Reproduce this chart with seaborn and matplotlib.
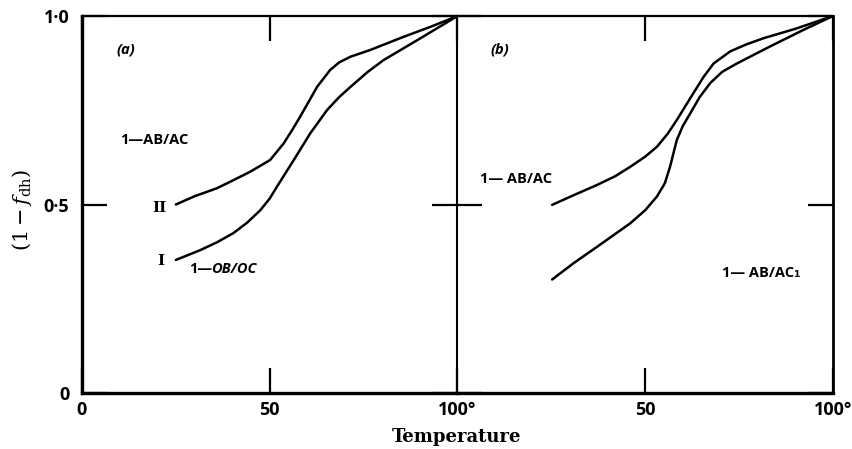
import matplotlib
matplotlib.use("Agg")
import matplotlib.pyplot as plt
import seaborn as sns
import pandas as pd

# ---- data ----
# panel (a)
a2_x = [25, 30, 35.9, 40, 44.8, 50.1, 53.7, 56, 58.1, 60.5, 62.6, 66.1, 68.5, 71.5, 76.8, 85.7, 93, 100]
a2_y = [0.50, 0.522, 0.543, 0.563, 0.587, 0.618, 0.662, 0.698, 0.733, 0.775, 0.812, 0.857, 0.877, 0.892, 0.910, 0.945, 0.972, 1.0]
a1_x = [25, 31.5, 36, 40.3, 44, 47.5, 50, 51.9, 56.4, 60.8, 65.3, 68.5, 71.5, 76, 80.3, 89.3, 100]
a1_y = [0.353, 0.379, 0.400, 0.424, 0.452, 0.485, 0.516, 0.547, 0.618, 0.689, 0.751, 0.785, 0.812, 0.851, 0.883, 0.936, 1.0]
# panel (b)
b1_x = [25.2, 31, 37.2, 42, 46, 50, 53.1, 56, 58.4, 60.5, 62.8, 65.5, 68.2, 72.6, 77, 81.5, 90.3, 100]
b1_y = [0.499, 0.525, 0.552, 0.575, 0.600, 0.627, 0.653, 0.688, 0.724, 0.758, 0.795, 0.838, 0.874, 0.906, 0.925, 0.941, 0.967, 1.0]
b2_x = [25.2, 31, 37.2, 46, 50, 53.1, 55.2, 56.6, 58.4, 60, 62, 64.5, 67.3, 70.5, 74.4, 83.2, 92.1, 100]
b2_y = [0.301, 0.345, 0.388, 0.450, 0.485, 0.521, 0.556, 0.600, 0.671, 0.708, 0.742, 0.785, 0.822, 0.852, 0.874, 0.919, 0.963, 1.0]

yticks = [0, 0.5, 1.0]
ytick_labels = ["0", "0\u00b75", "1\u00b70"]
xticks_a = [0, 50, 100]
xtick_labels_a = ["0", "50", "100\u00b0"]
xticks_b = [50, 100]
xtick_labels_b = ["50", "100\u00b0"]

sns.set_style("ticks")
plt.rcParams["font.family"] = ["Open Sans", "DejaVu Sans"]
plt.rcParams["mathtext.fontset"] = "dejavuserif"
for k in ("text.color", "axes.labelcolor", "xtick.color", "ytick.color", "axes.edgecolor"):
    plt.rcParams[k] = "black"

fig = plt.figure(figsize=(8.53, 4.49), dpi=100)
L, R, B, T = 82 / 853, 833 / 853, 1 - 393 / 449, 1 - 16 / 449
W = (R - L) / 2
ax1 = fig.add_axes([L, B, W, T - B])
ax2 = fig.add_axes([L + W, B, W, T - B])

lw = 1.8
for ax, curves in ((ax1, [(a2_x, a2_y), (a1_x, a1_y)]), (ax2, [(b1_x, b1_y), (b2_x, b2_y)])):
    for xs, ys in curves:
        df = pd.DataFrame({"x": xs, "y": ys})
        sns.lineplot(data=df, x="x", y="y", ax=ax, color="black", linewidth=lw,
                     sort=False, estimator=None)
    ax.set_xlim(0, 100)
    ax.set_ylim(0, 1.0)
    ax.set_xlabel("")
    ax.set_ylabel("")
    ax.patch.set_alpha(0)

tick_font = dict(family=["Open Sans", "DejaVu Sans"], weight="bold", size=13)

# panel (a) axes styling
ax1.set_xticks(xticks_a)
ax1.set_xticklabels(xtick_labels_a, **tick_font)
ax1.set_yticks(yticks)
ax1.set_yticklabels(ytick_labels, **tick_font)
ax1.tick_params(axis="both", direction="in", length=18, width=1.6, color="black",
                top=True, right=True, pad=6)
ax1.tick_params(axis="y", pad=9)
for s in ("left", "bottom"):
    ax1.spines[s].set_linewidth(2.4)
ax1.spines["top"].set_linewidth(1.6)
ax1.spines["right"].set_linewidth(1.5)

# panel (b) axes styling
ax2.set_xticks(xticks_b)
ax2.set_xticklabels(xtick_labels_b, **tick_font)
ax2.set_yticks(yticks)
ax2.yaxis.tick_right()
ax2.tick_params(axis="y", left=True, right=True, labelleft=False, labelright=False)
ax2.tick_params(axis="both", direction="in", length=18, width=1.6, color="black",
                top=True, pad=6)
ax2.spines["left"].set_visible(False)
ax2.spines["bottom"].set_linewidth(2.4)
ax2.spines["top"].set_linewidth(1.6)
ax2.spines["right"].set_linewidth(2.0)

# annotations
lab = dict(family=["Open Sans", "DejaVu Sans"], weight="bold", size=10.5, va="center", ha="left")
ax1.text(9.3, 0.91, "(a)", style="italic", **lab)
ax1.text(10.1, 0.671, "1\u2014AB/AC", **lab)
ax1.text(18.8, 0.49, "II", family="DejaVu Serif", weight="bold", size=11, va="center", ha="left")
ax1.text(20.0, 0.35, "I", family="DejaVu Serif", weight="bold", size=11, va="center", ha="left")
ax1.text(28.5, 0.329, "1\u2014", **lab)
ax1.text(34.5, 0.329, "OB/OC", style="italic", **lab)
ax2.text(8.8, 0.91, "(b)", style="italic", **lab)
ax2.text(6.1, 0.568, "1\u2014 AB/AC", **lab)
ax2.text(70.5, 0.318, "1\u2014 AB/AC\u2081", **lab)

fig.text(22 / 853, 1 - 210 / 449, r"$(1-f_{\mathrm{dh}})$", rotation=90,
         ha="center", va="center", size=15)
fig.text(457 / 853, 1 - 437 / 449, "Temperature", family="DejaVu Serif",
         weight="bold", size=13, ha="center", va="center")

fig.savefig("out.png", dpi=100, facecolor="white")
